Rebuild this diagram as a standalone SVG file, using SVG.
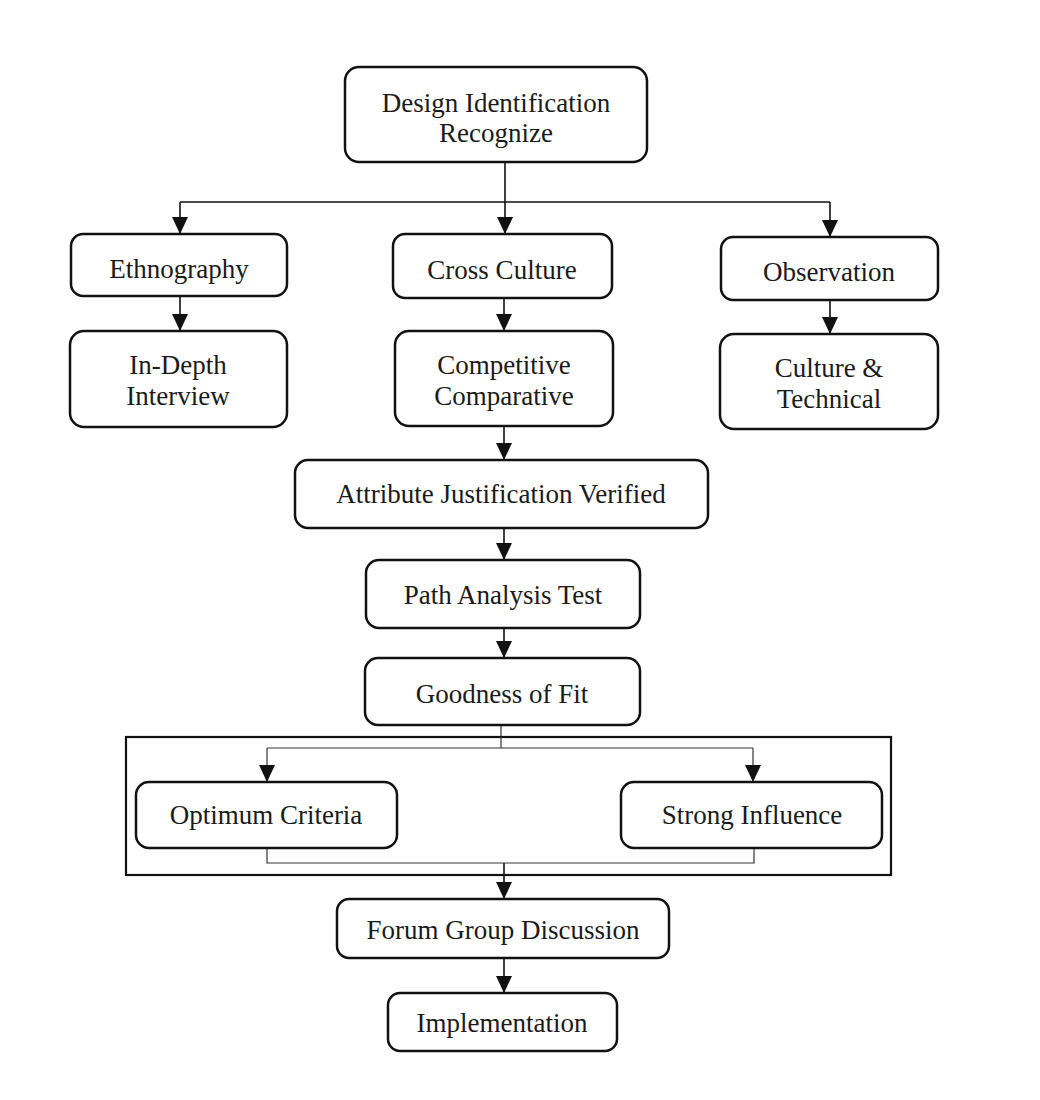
<svg xmlns="http://www.w3.org/2000/svg" width="1040" height="1100" viewBox="0 0 1040 1100">
<style>
.box{fill:#fff;stroke:#111;stroke-width:2.5}
.t{font-family:"Liberation Serif","Times New Roman",serif;font-size:27px;fill:#1a1a1a;text-anchor:middle}
.c{fill:none;stroke:#111;stroke-width:1.6}
.thin{fill:none;stroke:#333;stroke-width:1.2}
.frame{fill:none;stroke:#111;stroke-width:2.2}
</style>
<defs>
<marker id="ad" markerUnits="userSpaceOnUse" markerWidth="18" markerHeight="16" refX="17" refY="8" orient="auto" viewBox="0 0 18 16">
<path d="M0,0 L17,8 L0,16 Z" fill="#111"/>
</marker>
</defs>
<rect width="1040" height="1100" fill="#fff"/>
<rect class="frame" x="126" y="737" width="765" height="138"/>
<g id="connectors">
<path class="c" d="M505,162 V234" marker-end="url(#ad)"/>
<path class="c" d="M180,202 H830"/>
<path class="c" d="M180,202 V234" marker-end="url(#ad)"/>
<path class="c" d="M830,202 V237" marker-end="url(#ad)"/>
<path class="c" d="M180,296 V331" marker-end="url(#ad)"/>
<path class="c" d="M504,298 V331" marker-end="url(#ad)"/>
<path class="c" d="M830,300 V334" marker-end="url(#ad)"/>
<path class="c" d="M504,426 V460" marker-end="url(#ad)"/>
<path class="c" d="M504,528 V560" marker-end="url(#ad)"/>
<path class="c" d="M504,628 V658" marker-end="url(#ad)"/>
<path class="thin" d="M501,725 V748"/>
<path class="thin" d="M267,748 H753"/>
<path class="thin" d="M267,748 V782" marker-end="url(#ad)"/>
<path class="thin" d="M753,748 V782" marker-end="url(#ad)"/>
<path class="thin" d="M267,848 V863 H754 V848"/>
<path class="c" d="M504,863 V899" marker-end="url(#ad)"/>
<path class="c" d="M504,958 V993" marker-end="url(#ad)"/>
</g>
<g id="n1"><rect class="box" x="345" y="67" width="302" height="95" rx="14"/><text class="t" x="496" y="112">Design Identification</text><text class="t" x="496" y="142">Recognize</text></g>
<g id="n2"><rect class="box" x="71" y="234" width="216" height="62" rx="12"/><text class="t" x="179" y="278">Ethnography</text></g>
<g id="n3"><rect class="box" x="393" y="234" width="219" height="64" rx="12"/><text class="t" x="502" y="279">Cross Culture</text></g>
<g id="n4"><rect class="box" x="721" y="237" width="217" height="63" rx="12"/><text class="t" x="829" y="281">Observation</text></g>
<g id="n5"><rect class="box" x="70" y="331" width="217" height="96" rx="14"/><text class="t" x="178" y="374">In-Depth</text><text class="t" x="178" y="405">Interview</text></g>
<g id="n6"><rect class="box" x="395" y="331" width="218" height="95" rx="14"/><text class="t" x="504" y="374">Competitive</text><text class="t" x="504" y="405">Comparative</text></g>
<g id="n7"><rect class="box" x="720" y="334" width="218" height="95" rx="14"/><text class="t" x="829" y="377">Culture &amp;</text><text class="t" x="829" y="408">Technical</text></g>
<g id="n8"><rect class="box" x="295" y="460" width="413" height="68" rx="13"/><text class="t" x="501" y="503">Attribute Justification Verified</text></g>
<g id="n9"><rect class="box" x="366" y="560" width="274" height="68" rx="13"/><text class="t" x="503" y="604">Path Analysis Test</text></g>
<g id="n10"><rect class="box" x="365" y="658" width="275" height="67" rx="13"/><text class="t" x="502" y="703">Goodness of Fit</text></g>
<g id="n11"><rect class="box" x="136" y="782" width="261" height="66" rx="13"/><text class="t" x="266" y="824">Optimum Criteria</text></g>
<g id="n12"><rect class="box" x="621" y="782" width="261" height="66" rx="13"/><text class="t" x="752" y="824">Strong Influence</text></g>
<g id="n13"><rect class="box" x="337" y="899" width="332" height="59" rx="12"/><text class="t" x="503" y="939">Forum Group Discussion</text></g>
<g id="n14"><rect class="box" x="388" y="993" width="229" height="58" rx="12"/><text class="t" x="502" y="1032">Implementation</text></g>
</svg>
